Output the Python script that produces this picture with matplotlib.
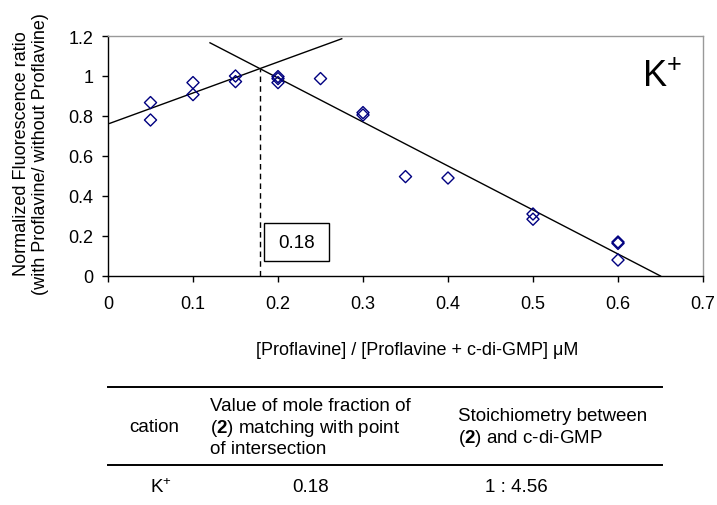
import matplotlib
matplotlib.use("Agg")
import matplotlib.pyplot as plt
from matplotlib.lines import Line2D
from matplotlib.patches import Rectangle

plt.rcParams['font.family'] = ['Liberation Sans', 'DejaVu Sans']
plt.rcParams['mathtext.fontset'] = 'custom'
plt.rcParams['mathtext.rm'] = 'Liberation Sans'
plt.rcParams['mathtext.it'] = 'Liberation Sans:italic'
plt.rcParams['mathtext.bf'] = 'Liberation Sans:bold'

# ---- data ----
mole_fraction = [0.05, 0.05, 0.10, 0.10, 0.15, 0.15, 0.20, 0.20, 0.20, 0.25,
                 0.30, 0.30, 0.35, 0.40, 0.50, 0.50, 0.60, 0.60, 0.60]
fluor_ratio = [0.867, 0.780, 0.967, 0.907, 1.000, 0.972, 0.997, 0.987, 0.967, 0.987,
               0.817, 0.805, 0.497, 0.490, 0.310, 0.284, 0.170, 0.163, 0.080]

# fitted lines: (slope, intercept, x-range)
rise_slope, rise_intercept = 1.55, 0.76
rise_range = [0.002, 0.275]
fall_slope, fall_intercept = -2.2, 1.43
fall_range = [0.12, 0.65]

x_ticks = [0, 0.1, 0.2, 0.3, 0.4, 0.5, 0.6, 0.7]
x_tick_labels = ['0', '0.1', '0.2', '0.3', '0.4', '0.5', '0.6', '0.7']
y_ticks = [0, 0.2, 0.4, 0.6, 0.8, 1.0, 1.2]
y_tick_labels = ['0', '0.2', '0.4', '0.6', '0.8', '1', '1.2']

intersection_label = '0.18'
table_cation = 'K$^{+}$'
table_fraction = '0.18'
table_stoich = '1 : 4.56'

# ---- figure ----
W, H = 717, 506
fig = plt.figure(figsize=(W / 100, H / 100), dpi=100)

def fx(px):
    return px / W

def fy(py):
    return 1 - py / H

ax = fig.add_axes([fx(108), fy(277), fx(703) - fx(108), fy(37) - fy(277)])
ax.set_xlim(0, 0.7)
ax.set_ylim(0, 1.2)

ax.scatter(mole_fraction, fluor_ratio, marker='D', s=38, facecolors='none',
           edgecolors='#000080', linewidths=1.0, zorder=3)

def line_pts(slope, intercept, rng):
    return rng, [slope * x + intercept for x in rng]

xr, yr = line_pts(rise_slope, rise_intercept, rise_range)
ax.plot(xr, yr, color='black', lw=1.0)
xf, yf = line_pts(fall_slope, fall_intercept, fall_range)
ax.plot(xf, yf, color='black', lw=1.0)

x_int = (fall_intercept - rise_intercept) / (rise_slope - fall_slope)
y_int = rise_slope * x_int + rise_intercept
ax.plot([x_int, x_int], [0, y_int], color='black', lw=1.0, ls=(0, (4, 3)))

ax.add_patch(Rectangle((0.183, 0.073), 0.077, 0.19, fc='white', ec='black', lw=1.0, zorder=4))
ax.text(0.2215, 0.168, intersection_label, ha='center', va='center', fontsize=13.5, zorder=5)

ax.text(0.652, 1.0, 'K$^{+}$', ha='center', va='center', fontsize=26)

ax.set_xticks(x_ticks)
ax.set_xticklabels(x_tick_labels)
ax.set_yticks(y_ticks)
ax.set_yticklabels(y_tick_labels)
ax.tick_params(axis='both', direction='out', length=4.5, width=1.0, labelsize=13,
               color='black')
ax.tick_params(axis='x', pad=9)
ax.tick_params(axis='y', pad=6)

for s in ['left', 'bottom']:
    ax.spines[s].set_color('black')
    ax.spines[s].set_linewidth(1.0)
for s in ['top', 'right']:
    ax.spines[s].set_color('#999999')
    ax.spines[s].set_linewidth(1.0)

fig.text(fx(31), fy(154), 'Normalized Fluorescence ratio\n(with Proflavine/ without Proflavine)',
         rotation=90, ha='center', va='center', fontsize=13, multialignment='center',
         linespacing=1.1)
fig.text(fx(417), fy(351), '[Proflavine] / [Proflavine + c-di-GMP] \u03bcM',
         ha='center', va='center', fontsize=13)

# ---- table ----
fig.add_artist(Line2D([fx(108), fx(662)], [fy(388), fy(388)], color='black', lw=1.4))
fig.add_artist(Line2D([fx(108), fx(662)], [fy(465.5), fy(465.5)], color='black', lw=1.4))

fs = 13.5
fig.text(fx(154.5), fy(428), 'cation', ha='center', va='center', fontsize=fs)
fig.text(fx(210), fy(406.5), 'Value of mole fraction of', ha='left', va='center', fontsize=fs)
fig.text(fx(210), fy(428.3), r'($\mathbf{2}$) matching with point', ha='left', va='center', fontsize=fs)
fig.text(fx(210), fy(450), 'of intersection', ha='left', va='center', fontsize=fs)
fig.text(fx(458), fy(416.7), 'Stoichiometry between', ha='left', va='center', fontsize=fs)
fig.text(fx(458), fy(438.3), r'($\mathbf{2}$) and c-di-GMP', ha='left', va='center', fontsize=fs)

fig.text(fx(160.7), fy(488), table_cation, ha='center', va='center', fontsize=fs)
fig.text(fx(311), fy(488), table_fraction, ha='center', va='center', fontsize=fs)
fig.text(fx(516.7), fy(488), table_stoich, ha='center', va='center', fontsize=fs)

fig.savefig('out.png', dpi=100)
